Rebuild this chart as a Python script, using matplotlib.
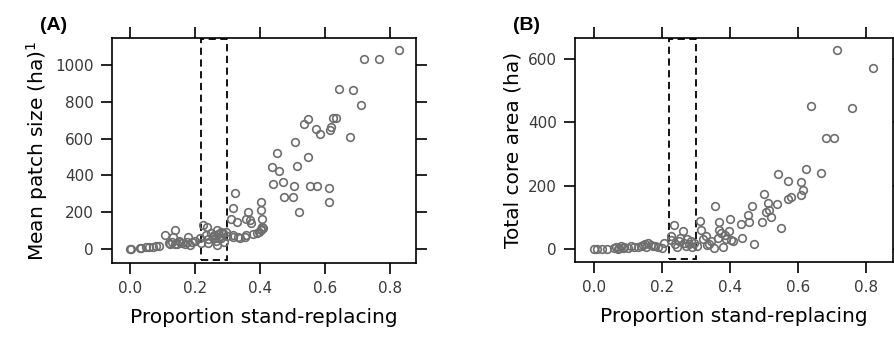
import matplotlib
matplotlib.use('Agg')
import matplotlib.pyplot as plt
from matplotlib.patches import Rectangle

# Panel A: proportion stand-replacing vs mean patch size (ha)
prop_a = [0.0, 0.005, 0.03, 0.035, 0.05, 0.06, 0.072, 0.08, 0.09, 0.108,
          0.12, 0.123, 0.13, 0.133, 0.138, 0.14, 0.144, 0.15, 0.154, 0.16,
          0.169, 0.175, 0.18, 0.185, 0.19, 0.2, 0.215, 0.22, 0.226, 0.238,
          0.234, 0.24, 0.241, 0.25, 0.255, 0.26, 0.262, 0.265, 0.267, 0.267,
          0.27, 0.275, 0.28, 0.282, 0.287, 0.29, 0.297, 0.3, 0.311, 0.317,
          0.318, 0.319, 0.323, 0.331, 0.333, 0.338, 0.354, 0.356, 0.359, 0.364,
          0.369, 0.374, 0.38, 0.39, 0.398, 0.403, 0.403, 0.403, 0.405, 0.407,
          0.408, 0.41, 0.437, 0.441, 0.454, 0.46, 0.47, 0.475, 0.503, 0.504,
          0.509, 0.514, 0.52, 0.536, 0.548, 0.548, 0.553, 0.574, 0.576, 0.586,
          0.615, 0.614, 0.614, 0.62, 0.626, 0.634, 0.642, 0.676, 0.687, 0.71,
          0.72, 0.765, 0.828]
patch_a = [0, 0, 5, 3, 9, 12, 13, 15, 16, 76,
           30, 26, 35, 65, 103, 28, 26, 45, 40, 30,
           26, 35, 67, 22, 40, 45, 58, 30, 130, 121,
           76, 55, 31, 85, 65, 75, 58, 45, 103, 22,
           80, 60, 90, 58, 85, 40, 94, 70, 163, 67,
           76, 224, 302, 148, 67, 58, 67, 161, 76, 203,
           158, 140, 80, 89, 94, 109, 212, 254, 103, 120,
           163, 112, 444, 353, 520, 422, 362, 284, 284, 344,
           581, 453, 203, 678, 708, 502, 344, 652, 344, 625,
           647, 254, 333, 661, 710, 710, 871, 610, 862, 784,
           1031, 1031, 1080]

# Panel B: proportion stand-replacing vs total core area (ha)
prop_b = [0.0, 0.01, 0.025, 0.04, 0.06, 0.065, 0.07, 0.075, 0.08, 0.085,
          0.09, 0.1, 0.11, 0.118, 0.13, 0.14, 0.145, 0.15, 0.155, 0.16,
          0.167, 0.175, 0.18, 0.19, 0.2, 0.206,
          0.226, 0.228, 0.236, 0.24, 0.245, 0.25, 0.255, 0.261, 0.265, 0.27,
          0.275, 0.28, 0.285, 0.29, 0.295,
          0.305, 0.313, 0.315, 0.32, 0.33, 0.334, 0.34, 0.345, 0.354, 0.357,
          0.365, 0.369, 0.369, 0.375, 0.379, 0.385, 0.39, 0.398, 0.401, 0.403,
          0.41, 0.432, 0.437, 0.454, 0.457, 0.465, 0.47, 0.496, 0.501, 0.506,
          0.511, 0.516, 0.52, 0.54, 0.543, 0.55, 0.57, 0.572, 0.579, 0.609,
          0.609, 0.614, 0.624, 0.64, 0.668, 0.683, 0.705, 0.715, 0.758, 0.821]
core_b = [0, 0, 0, 0, 2, 5, 0, 3, 8, 2,
          5, 3, 10, 7, 5, 8, 12, 15, 5, 20,
          13, 10, 8, 5, 3, 18,
          28, 40, 74, 15, 5, 25, 35, 55, 20, 10,
          30, 15, 25, 5, 20,
          10, 89, 60, 30, 40, 13, 15, 25, 2, 137,
          35, 86, 60, 50, 7, 45, 30, 55, 95, 28,
          25, 79, 34, 107, 86, 136, 16, 86, 173, 117,
          144, 123, 102, 142, 236, 67, 157, 216, 165, 211,
          171, 186, 252, 451, 241, 350, 350, 628, 446, 570]

x_ticks = [0.0, 0.2, 0.4, 0.6, 0.8]
x_labels = ['0.0', '0.2', '0.4', '0.6', '0.8']
y_ticks_a = [0, 200, 400, 600, 800, 1000]
y_ticks_b = [0, 200, 400, 600]

# highlighted window of stand-replacing proportion
window_lo, window_hi = 0.22, 0.30

point_color = '#6e6e6e'
tick_color = '#3a3a3a'


def draw_panel(ax, x, y, yticks, ylim, ylabel):
    ax.plot(x, y, 'o', mfc='none', mec=point_color, mew=1.2, ms=5.5,
            clip_on=False)
    ax.set_xlim(-0.055, 0.88)
    ax.set_ylim(*ylim)
    ax.set_xticks(x_ticks)
    ax.set_xticklabels(x_labels)
    ax.set_yticks(yticks)
    ax.set_yticklabels([str(t) for t in yticks])
    ax.tick_params(direction='out', length=8, width=1.2, pad=5,
                   labelsize=11, labelcolor=tick_color,
                   top=True, right=True, labeltop=False, labelright=False)
    for s in ax.spines.values():
        s.set_linewidth(1.2)
    # dashed window box, spanning nearly the full height of the panel
    span = ylim[1] - ylim[0]
    rect = Rectangle((window_lo, ylim[0] + 0.013 * span),
                     window_hi - window_lo, 0.982 * span,
                     fill=False, ec='black', lw=1.3, ls=(0, (4, 2.5)))
    ax.add_patch(rect)
    ax.set_xlabel('Proportion stand-replacing', fontsize=14.5, labelpad=9)
    ax.set_ylabel(ylabel, fontsize=14.5, labelpad=4)


fig = plt.figure(figsize=(8.95, 3.37), dpi=100)
ax_a = fig.add_axes([0.125, 0.22, 0.3397, 0.667])
ax_b = fig.add_axes([0.6425, 0.223, 0.3553, 0.664])

draw_panel(ax_a, prop_a, patch_a, y_ticks_a, (-76, 1147),
           'Mean patch size (ha)$^{1}$')
draw_panel(ax_b, prop_b, core_b, y_ticks_b, (-41, 666),
           'Total core area (ha)')

fig.text(0.045, 0.925, '(A)', fontsize=14, fontweight='bold',
         family='Liberation Sans', va='center')
fig.text(0.573, 0.925, '(B)', fontsize=14, fontweight='bold',
         family='Liberation Sans', va='center')

fig.savefig('out.png', dpi=100)
